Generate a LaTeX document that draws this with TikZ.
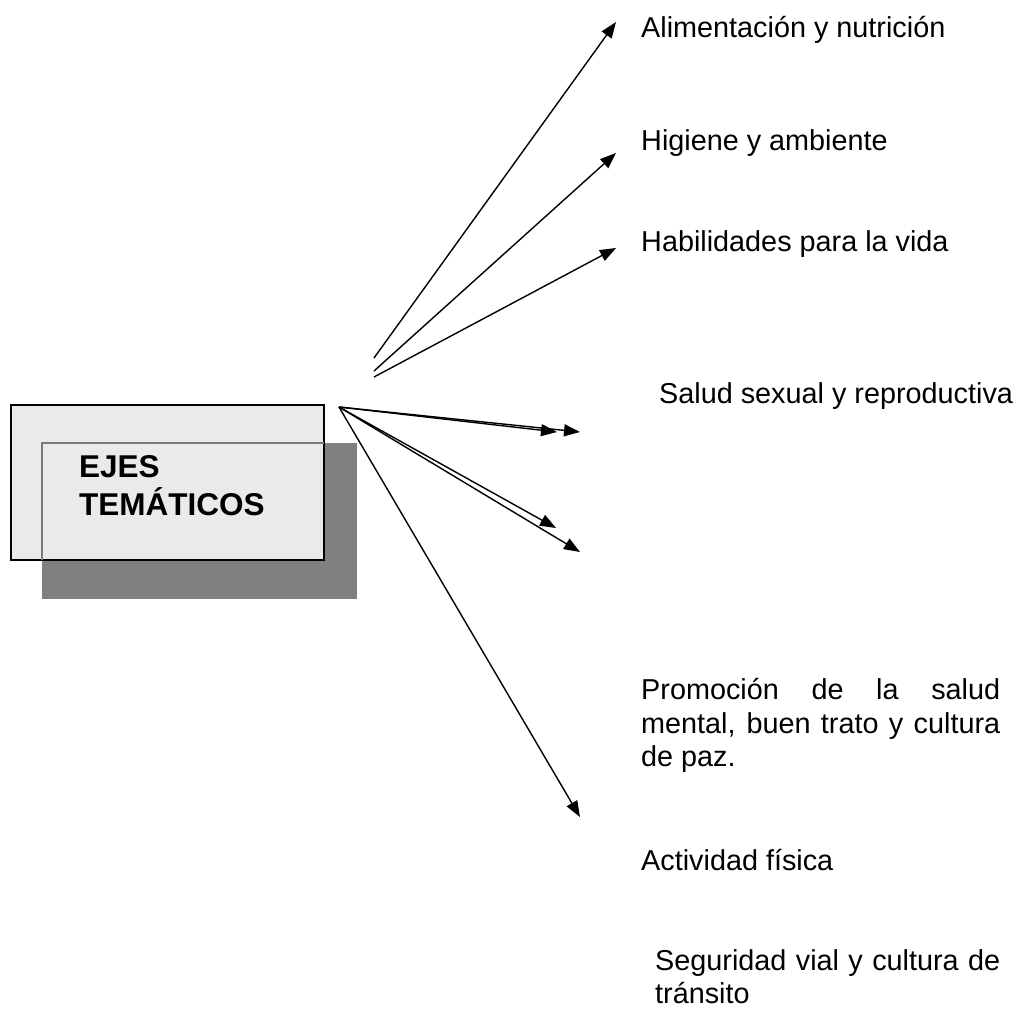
\documentclass[tikz,border=0pt]{standalone}
\usepackage{fontspec}
\setmainfont{Liberation Sans}
\usetikzlibrary{arrows.meta}
\definecolor{boxfill}{HTML}{EAEAEA}
\definecolor{shadowgray}{HTML}{808080}
\definecolor{edgegray}{HTML}{7A7A7A}
\begin{document}
\begin{tikzpicture}[x=1pt,y=-1pt,
  conn/.style={draw=black, line width=1.4pt, -{Triangle[length=16pt,width=12pt]}},
  lbl/.style={anchor=base west, inner sep=0pt, font=\fontsize{28.8pt}{33pt}\selectfont},
  ttl/.style={anchor=base west, inner sep=0pt, font=\bfseries\fontsize{31.5pt}{38pt}\selectfont},
  shadowbox/.style={fill=shadowgray, inner sep=0pt, outer sep=0pt},
  mainbox/.style={fill=boxfill, draw=black, line width=2pt, inner sep=0pt, outer sep=0pt}
]
\useasboundingbox (0,0) rectangle (1022,1018);

% box with shadow
\node[shadowbox, minimum width=315pt, minimum height=156pt] (shadow) at (199.5,521) {};
\node[mainbox, minimum width=313pt, minimum height=155pt] (box) at (167.5,482.5) {};
\draw[edgegray, line width=1.4pt] (shadow.north west |- box.south) -- (shadow.north west) -- (shadow.north west -| box.east);
\node[ttl] (t1) at (79,477) {EJES};
\node[ttl] (t2) at (79,515) {TEMÁTICOS};

% labels
\node[lbl] (ali) at (641,37) {Alimentación y nutrición};
\node[lbl] (hig) at (641,150) {Higiene y ambiente};
\node[lbl] (hab) at (641,251) {Habilidades para la vida};
\node[lbl] (sal) at (659,403) {Salud sexual y reproductiva};
\node[lbl] (prom1) at (641,699) {\makebox[359pt][s]{Promoción de la salud}};
\node[lbl] (prom2) at (641,733) {\makebox[359pt][s]{mental, buen trato y cultura}};
\node[lbl] (prom3) at (641,766) {de paz.};
\node[lbl] (act) at (641,870) {Actividad física};
\node[lbl] (seg1) at (655,970) {\makebox[345pt][s]{Seguridad vial y cultura de}};
\node[lbl] (seg2) at (655,1003) {tránsito};

% connector ends
\coordinate (sA1) at (374,358);
\coordinate (sA2) at (374,371);
\coordinate (sA3) at (374,377);
\coordinate (eA1) at (616,22);
\coordinate (eA2) at (616,153);
\coordinate (eA3) at (616,248);
\coordinate (o) at (339,407);
\coordinate (eB1) at (557,432);
\coordinate (eB2) at (580,432);
\coordinate (eB3) at (556,528);
\coordinate (eB4) at (580,552);
\coordinate (eB5) at (580,817);

% connectors
\draw[conn] (sA1) -- (eA1);
\draw[conn] (sA2) -- (eA2);
\draw[conn] (sA3) -- (eA3);
\draw[conn] (o) -- (eB1);
\draw[conn] (o) -- (eB2);
\draw[conn] (o) -- (eB3);
\draw[conn] (o) -- (eB4);
\draw[conn] (o) -- (eB5);
\end{tikzpicture}
\end{document}
